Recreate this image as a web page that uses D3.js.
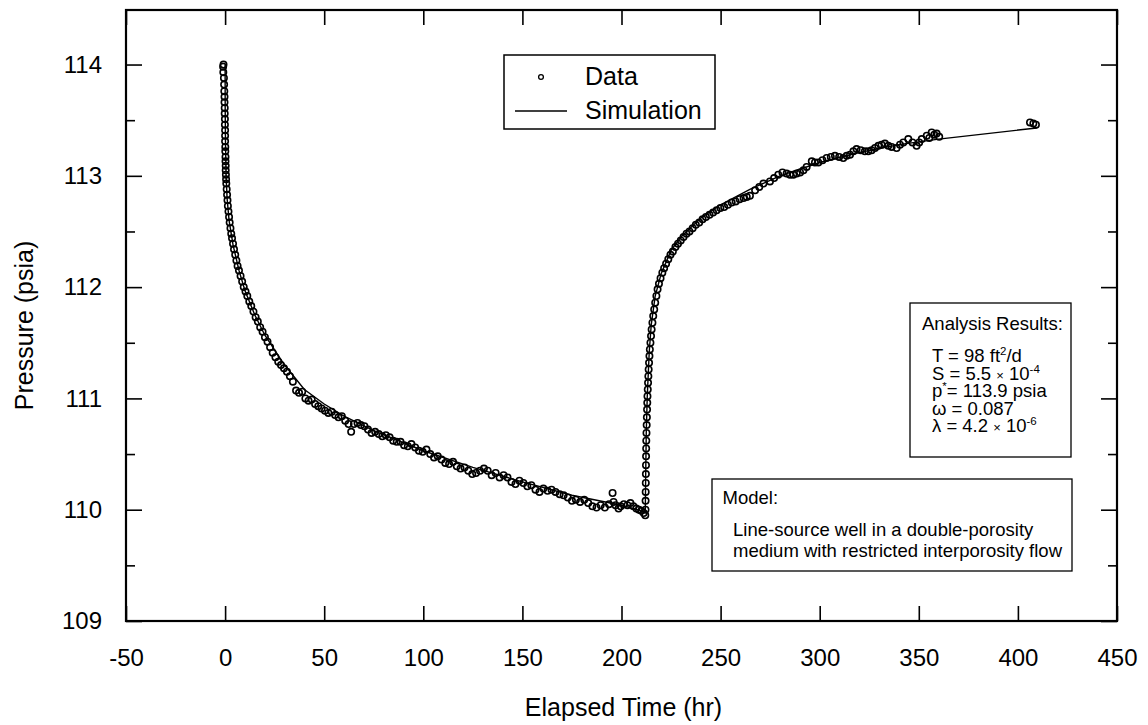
<!DOCTYPE html>
<html>
<head>
<meta charset="utf-8">
<script src="https://cdn.jsdelivr.net/npm/d3@7"></script>
<style>
    body { margin: 0; background: #fff; }
    text { font-family: "Liberation Sans", Arial, Helvetica, sans-serif; fill: #000; }
    .axis text { font-size: 24px; }
    .axis path { display: none; }
    .axis line { stroke: #000; stroke-width: 1.6; }
</style>
</head>
<body>
<div id="chart" style="width:1148px;height:725px;"></div>
<script>
// ticks
const xTicks = [-50, 0, 50, 100, 150, 200, 250, 300, 350, 400, 450];
const yTicks = [109, 110, 111, 112, 113, 114];
const yMinorTicks = [109.5, 110.5, 111.5, 112.5, 113.5];

// observed pressure [elapsed hr, psia] - drawdown
const drawdownData = [
    [-1.0,113.98],[-0.8,114.00],[-0.9,113.93],[-0.6,113.88],[-0.5,113.82],[-0.4,113.76],[-0.3,113.71],[-0.3,113.66],
    [-0.2,113.61],[-0.2,113.56],[-0.1,113.51],[-0.1,113.46],[0,113.41],[0,113.36],[0,113.31],[0.1,113.26],
    [0.1,113.22],[0.2,113.17],[0.2,113.13],[0.3,113.09],[0.3,113.05],[0.4,113.01],[0.5,112.97],[0.6,112.93],
    [0.8,112.88],[1.0,112.83],[1.2,112.78],[1.4,112.73],[1.7,112.68],[2.0,112.63],[2.3,112.58],[2.7,112.53],
    [3.1,112.48],[3.5,112.44],[4.0,112.39],[4.5,112.34],[5.1,112.29],[5.7,112.24],[6.3,112.19],[7.0,112.15],
    [7.8,112.10],[8.6,112.05],[9.4,112.00],[10.3,111.96],[11.2,111.92],[12.2,111.87],[13.2,111.83],[14.3,111.78],
    [15.4,111.73],[16.5,111.69],[17.7,111.64],[18.9,111.60],[20.1,111.55],[21.4,111.51],[22.7,111.46],[24.0,111.41],
    [25.4,111.37],[26.8,111.33],[28.2,111.30],[29.7,111.27],[31.2,111.24],[32.7,111.20],[34.2,111.15],[35.8,111.07],
    [37.3,111.05],[38.9,111.06],[40.5,111.00],[42.1,110.98],[43.7,110.99],[45.4,110.95],[47.0,110.93],[48.7,110.91],
    [50.4,110.89],[52.1,110.87],[53.8,110.88],[55.5,110.85],[57.2,110.83],[58.9,110.84],[60.6,110.80],[62.3,110.77],
    [63.6,110.70],[65.0,110.77],[66.8,110.78],[68.5,110.76],[70.3,110.75],[72.1,110.72],[73.9,110.69],[75.7,110.70],
    [77.5,110.68],[79.3,110.66],[81.1,110.67],[83.0,110.65],[84.8,110.62],[86.6,110.61],[88.5,110.61],[90.3,110.58],
    [92.2,110.57],[94.0,110.59],[95.9,110.56],[97.8,110.53],[99.7,110.52],[101.6,110.54],[103.5,110.50],[105.4,110.47],
    [107.3,110.48],[109.2,110.45],[111.1,110.42],[113.0,110.41],[115.0,110.43],[116.9,110.39],[118.8,110.37],[120.8,110.38],
    [122.7,110.35],[124.7,110.32],[126.6,110.33],[128.6,110.35],[130.6,110.37],[132.5,110.35],[134.5,110.31],[136.5,110.33],
    [138.5,110.29],[140.5,110.31],[142.5,110.29],[144.5,110.25],[146.5,110.23],[148.5,110.26],[150.5,110.24],[152.5,110.21],
    [154.5,110.22],[156.6,110.18],[158.6,110.16],[160.6,110.19],[162.7,110.17],[164.7,110.18],[166.7,110.16],[168.8,110.14],
    [170.8,110.13],[172.9,110.11],[175.0,110.08],[177.0,110.09],[179.1,110.07],[181.2,110.09],[183.2,110.06],[185.3,110.03],
    [187.4,110.02],[189.5,110.04],[191.6,110.02],[193.7,110.05],[195.5,110.15],[196.0,110.07],[197.0,110.04],[198.5,110.01],
    [199.6,110.03],[201.2,110.05],[203.0,110.04],[204.5,110.06],[206.0,110.03],[207.5,110.01],[208.8,110.00],[210.0,109.99],
    [211.2,109.97],[212.0,109.95]
];

// observed pressure - recovery
const recoveryData = [
    [212.1,110.00],[212.15,110.08],[212.2,110.16],[212.25,110.24],[212.3,110.32],[212.35,110.40],[212.4,110.48],[212.45,110.55],
    [212.5,110.62],[212.6,110.69],[212.7,110.76],[212.8,110.83],[212.9,110.90],[213.0,110.96],[213.1,111.02],[213.25,111.08],
    [213.4,111.14],[213.55,111.20],[213.7,111.26],[213.9,111.32],[214.1,111.38],[214.3,111.44],[214.6,111.50],[214.9,111.56],
    [215.2,111.62],[215.6,111.68],[216.0,111.74],[216.5,111.80],[217.0,111.86],[217.6,111.92],[218.2,111.98],[218.9,112.03],
    [219.7,112.08],[220.6,112.13],[221.5,112.17],[222.5,112.21],[223.6,112.25],[224.7,112.29],[225.9,112.32],[227.2,112.36],
    [228.5,112.39],[229.9,112.42],[231.3,112.45],[232.8,112.48],[234.3,112.50],[235.9,112.53],[237.5,112.56],[239.2,112.58],
    [240.9,112.61],[242.6,112.63],[244.4,112.65],[246.2,112.67],[248.0,112.69],[249.9,112.71],[251.8,112.72],[253.7,112.74],
    [255.6,112.76],[257.6,112.77],[259.6,112.79],[261.6,112.80],[263.2,112.81],[264.8,112.82],[267.4,112.87],[269.5,112.90],
    [271.6,112.93],[274.9,112.95],[277.0,112.98],[279.1,113.01],[281.2,113.03],[283.3,113.02],[285.0,113.01],[286.7,113.01],
    [288.4,113.02],[290.1,113.03],[291.8,113.05],[293.4,113.08],[296.0,113.13],[297.6,113.12],[299.3,113.12],[301.4,113.14],
    [303.5,113.16],[305.6,113.17],[307.7,113.18],[309.8,113.17],[311.9,113.16],[313.6,113.18],[315.3,113.19],[317.0,113.22],
    [318.6,113.24],[320.7,113.23],[322.8,113.22],[324.5,113.22],[326.2,113.23],[327.9,113.25],[329.6,113.27],[331.2,113.28],
    [332.9,113.29],[334.6,113.27],[336.3,113.26],[338.8,113.25],[340.5,113.28],[342.2,113.30],[344.7,113.33],[346.8,113.30],
    [348.9,113.27],[350.2,113.30],[351.5,113.33],[354.0,113.36],[355.3,113.34],[356.5,113.39],[357.8,113.37],[359.0,113.38],
    [360.3,113.35]
];

// last readings after gap
const lateData = [[406.1,113.48],[407.8,113.47],[409.1,113.46]];

// model curve
const simTime = [0, 0.05, 0.2, 0.5, 1, 2, 4, 7, 10, 15, 20, 30, 40, 50, 60, 75, 100, 125, 150, 175, 200, 212,
    212.2, 212.5, 213, 214, 215, 217, 220, 225, 230, 240, 250, 265, 280, 300, 320, 340, 360, 409.5];
const simPressure = [114.0, 113.6, 113.3, 113.0, 112.8, 112.6, 112.38, 112.15, 111.97, 111.75, 111.57, 111.3, 111.08,
    110.95, 110.84, 110.71, 110.53, 110.38, 110.25, 110.13, 110.04, 109.98,
    110.3, 110.7, 111.02, 111.42, 111.66, 111.92, 112.12, 112.33, 112.45, 112.62, 112.74, 112.88, 113.0, 113.12,
    113.21, 113.28, 113.33, 113.43];

// text blocks
const legendLabels = ["Data", "Simulation"];
const analysisLines = [
    [{t: "T = 98 ft"}, {t: "2", sup: true}, {t: "/d"}],
    [{t: "S = 5.5 "}, {t: "×", small: true}, {t: " 10"}, {t: "-4", sup: true}],
    [{t: "p"}, {t: "*", sup: true}, {t: "= 113.9 psia"}],
    [{t: "ω = 0.087"}],
    [{t: "λ = 4.2 "}, {t: "×", small: true}, {t: " 10"}, {t: "-6", sup: true}]
];
const modelLines = ["Line-source well in a double-porosity", "medium with restricted interporosity flow"];


class PressureChart {

    constructor(parentElement) {
        this.parentElement = parentElement;
        this.initVis();
    }

    initVis() {
        let vis = this;

        vis.width = 1148;
        vis.height = 725;
        vis.plot = {left: 126, right: 1117, top: 10, bottom: 621};

        vis.svg = d3.select("#" + vis.parentElement).append("svg")
            .attr("width", vis.width)
            .attr("height", vis.height);

        vis.svg.append("rect")
            .attr("width", vis.width)
            .attr("height", vis.height)
            .attr("fill", "#fff");

        // Scales and axes
        vis.x = d3.scaleLinear()
            .domain([-50, 450])
            .range([vis.plot.left, vis.plot.right]);

        vis.y = d3.scaleLinear()
            .domain([109, 114.49])
            .range([vis.plot.bottom, vis.plot.top]);

        // plain hyphen for negative labels, like the original
        let fmt = d => String(d);

        vis.svg.append("g")
            .attr("class", "axis")
            .attr("transform", `translate(0, ${vis.plot.bottom})`)
            .call(d3.axisBottom(vis.x).tickValues(xTicks).tickSizeInner(-15).tickSizeOuter(0).tickPadding(28).tickFormat(fmt));

        vis.svg.append("g")
            .attr("class", "axis")
            .attr("transform", `translate(0, ${vis.plot.top})`)
            .call(d3.axisTop(vis.x).tickValues(xTicks).tickSizeInner(-15).tickSizeOuter(0).tickFormat(""));

        vis.svg.append("g")
            .attr("class", "axis")
            .attr("transform", `translate(${vis.plot.left}, 0)`)
            .call(d3.axisLeft(vis.y).tickValues(yTicks).tickSizeInner(-16).tickSizeOuter(0).tickPadding(24).tickFormat(fmt));

        vis.svg.append("g")
            .attr("class", "axis")
            .attr("transform", `translate(${vis.plot.left}, 0)`)
            .call(d3.axisLeft(vis.y).tickValues(yMinorTicks).tickSizeInner(-9).tickSizeOuter(0).tickFormat(""));

        vis.svg.append("g")
            .attr("class", "axis")
            .attr("transform", `translate(${vis.plot.right}, 0)`)
            .call(d3.axisRight(vis.y).tickValues(yTicks).tickSizeInner(-16).tickSizeOuter(0).tickFormat(""));

        vis.svg.append("g")
            .attr("class", "axis")
            .attr("transform", `translate(${vis.plot.right}, 0)`)
            .call(d3.axisRight(vis.y).tickValues(yMinorTicks).tickSizeInner(-9).tickSizeOuter(0).tickFormat(""));

        // frame
        vis.svg.append("rect")
            .attr("x", vis.plot.left)
            .attr("y", vis.plot.top)
            .attr("width", vis.plot.right - vis.plot.left)
            .attr("height", vis.plot.bottom - vis.plot.top)
            .attr("fill", "none")
            .attr("stroke", "#000")
            .attr("stroke-width", 2.2);

        // axis titles
        vis.svg.append("text")
            .attr("x", (vis.plot.left + vis.plot.right) / 2 + 2)
            .attr("y", 716)
            .attr("text-anchor", "middle")
            .attr("font-size", 25)
            .text("Elapsed Time (hr)");

        vis.svg.append("text")
            .attr("transform", `translate(33, ${(vis.plot.top + vis.plot.bottom) / 2 + 10}) rotate(-90)`)
            .attr("text-anchor", "middle")
            .attr("font-size", 25)
            .text("Pressure (psia)");

        vis.updateVis();
    }

    updateVis() {
        let vis = this;

        vis.line = d3.line()
            .x(d => vis.x(d[0]))
            .y(d => vis.y(d[1]));

        vis.svg.append("path")
            .datum(simTime.map((t, i) => [t, simPressure[i]]))
            .attr("d", vis.line)
            .attr("fill", "none")
            .attr("stroke", "#000")
            .attr("stroke-width", 1.4);

        vis.svg.append("g").selectAll("circle")
            .data(drawdownData.concat(recoveryData, lateData))
            .enter()
            .append("circle")
            .attr("cx", d => vis.x(d[0]))
            .attr("cy", d => vis.y(d[1]))
            .attr("r", 3.2)
            .attr("fill", "none")
            .attr("stroke", "#000")
            .attr("stroke-width", 1.6);

        // Legend
        let legend = vis.svg.append("g").attr("transform", "translate(504, 55)");
        legend.append("rect")
            .attr("width", 211)
            .attr("height", 74)
            .attr("fill", "#fff")
            .attr("stroke", "#000")
            .attr("stroke-width", 1.5);
        legend.append("circle")
            .attr("cx", 37)
            .attr("cy", 22)
            .attr("r", 2.4)
            .attr("fill", "none")
            .attr("stroke", "#000")
            .attr("stroke-width", 1.3);
        legend.append("line")
            .attr("x1", 11).attr("x2", 63)
            .attr("y1", 56).attr("y2", 56)
            .attr("stroke", "#000")
            .attr("stroke-width", 1.5);
        legend.selectAll(".lbl").data(legendLabels)
            .enter()
            .append("text")
            .attr("class", "lbl")
            .attr("x", 81)
            .attr("y", (d, i) => 30 + i * 34)
            .attr("font-size", 25)
            .text(d => d);

        // Analysis results box
        let results = vis.svg.append("g").attr("transform", "translate(910, 303)");
        results.append("rect")
            .attr("width", 161)
            .attr("height", 154)
            .attr("fill", "#fff")
            .attr("stroke", "#000")
            .attr("stroke-width", 1.3);
        results.append("text")
            .attr("x", 12)
            .attr("y", 26.5)
            .attr("font-size", 18.5)
            .text("Analysis Results:");
        analysisLines.forEach((parts, i) => {
            let txt = results.append("text")
                .attr("x", 22)
                .attr("y", 59 + i * 17.5)
                .attr("font-size", 18.5);
            parts.forEach((p, j) => {
                let span = txt.append("tspan").text(p.t);
                if (p.sup) span.attr("font-size", 11.5).attr("dy", -7);
                else if (p.small) span.attr("font-size", 13);
                // back to the baseline after a superscript
                if (j > 0 && parts[j - 1].sup && !p.sup) span.attr("dy", 7);
            });
        });

        // Model box
        let model = vis.svg.append("g").attr("transform", "translate(712, 479)");
        model.append("rect")
            .attr("width", 360)
            .attr("height", 92)
            .attr("fill", "#fff")
            .attr("stroke", "#000")
            .attr("stroke-width", 1.3);
        model.append("text")
            .attr("x", 10.5)
            .attr("y", 25)
            .attr("font-size", 18.5)
            .text("Model:");
        model.selectAll(".ml").data(modelLines)
            .enter()
            .append("text")
            .attr("class", "ml")
            .attr("x", 21)
            .attr("y", (d, i) => 57 + i * 20.7)
            .attr("font-size", 18.5)
            .text(d => d);
    }
}

new PressureChart("chart");
</script>
</body>
</html>
